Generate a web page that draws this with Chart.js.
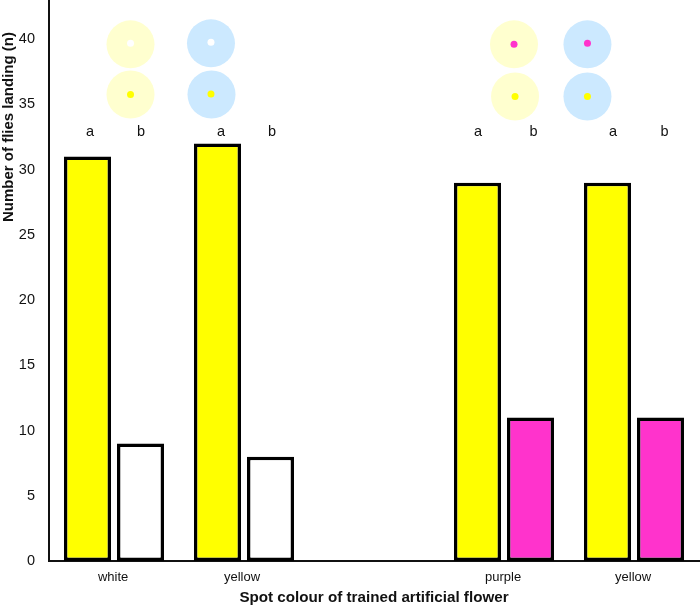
<!DOCTYPE html>
<html><head><meta charset="utf-8">
<style>html,body{margin:0;padding:0;background:#fff}#w{width:700px;height:607px;position:relative}</style>
<script src="https://cdn.jsdelivr.net/npm/chart.js@4"></script></head>
<body><div id="w"><canvas id="c"></canvas></div>
<script>
const categories = ['white','yellow','purple','yellow'];
const groupCentres = [0.5,1.5,3.5,4.5];
const labelCentres = [0.493,1.485,3.493,4.493];
const barOffset = 0.204;
const trainedSpot = [31,32,29,29];
const otherSpot = [9,8,11,11];
const otherColours = ['#FFFFFF','#FFFFFF','#FF33CC','#FF33CC'];
const yTicks = [0,5,10,15,20,25,30,35,40];
const yellowDiscs = [{x:0.627,y:39.6},{x:0.627,y:35.76},{x:3.577,y:39.6},{x:3.585,y:35.6}];
const blueDiscs = [{x:1.246,y:39.68},{x:1.25,y:35.76},{x:4.142,y:39.6},{x:4.142,y:35.6}];
const whiteSpots = [{x:0.627,y:39.68},{x:1.246,y:39.76}];
const yellowSpots = [{x:0.627,y:35.76},{x:1.246,y:35.8},{x:3.585,y:35.6},{x:4.142,y:35.6}];
const purpleSpots = [{x:3.577,y:39.6},{x:4.142,y:39.68}];
const letterPoints = [{x:0.315,y:32.9,t:'a'},{x:0.708,y:32.9,t:'b'},{x:1.323,y:32.9,t:'a'},{x:1.715,y:32.9,t:'b'},{x:3.3,y:32.9,t:'a'},{x:3.727,y:32.9,t:'b'},{x:4.338,y:32.9,t:'a'},{x:4.735,y:32.9,t:'b'}];
const yAxisTitle = 'Number of flies landing (n)';
const xAxisTitle = 'Spot colour of trained artificial flower';

const FF = '"Liberation Sans", Arial, sans-serif';
const dot = (data,color,r,order)=>({type:'scatter',data,backgroundColor:color,borderWidth:0,pointRadius:r,pointHoverRadius:r,order,clip:false});
const bars = (vals,shift,color)=>({data:vals.map((v,i)=>({x:groupCentres[i]+shift,y:v})),backgroundColor:color,borderColor:'#000',borderWidth:3.5,borderSkipped:false,grouped:false,barPercentage:0.887,categoryPercentage:1,order:5});
const textPlugin = {id:'texts',afterDatasetsDraw(chart){
  const {ctx,scales}=chart;ctx.save();ctx.fillStyle='#111';ctx.font='14.5px '+FF;ctx.textAlign='center';ctx.textBaseline='middle';
  letterPoints.forEach(p=>ctx.fillText(p.t,scales.x.getPixelForValue(p.x),scales.y.getPixelForValue(p.y)));
  ctx.font='bold 15px '+FF;ctx.translate(9,127);ctx.rotate(-Math.PI/2);ctx.fillText(yAxisTitle,0,0);
  ctx.restore();}};
new Chart(document.getElementById('c'),{
 type:'bar',
 data:{datasets:[
  bars(trainedSpot,-barOffset,'#FFFF00'),
  bars(otherSpot,barOffset,otherColours),
  dot(yellowDiscs,'#FFFFCF',24,4),
  dot(blueDiscs,'#CCE9FF',24,4),
  dot(whiteSpots,'#FFFFFF',3.5,1),
  dot(yellowSpots,'#FFFF00',3.5,1),
  dot(purpleSpots,'#FF33CC',3.5,1)
 ]},
 plugins:[textPlugin],
 options:{
  responsive:true,maintainAspectRatio:false,animation:false,
  layout:{autoPadding:false,padding:{left:0,right:1,top:0,bottom:0}},
  plugins:{legend:{display:false},tooltip:{enabled:false}},
  scales:{
   x:{type:'linear',position:'bottom',min:0,max:5,offset:false,
      afterBuildTicks(s){s.ticks=labelCentres.map(v=>({value:v}))},
      grid:{display:false,drawTicks:false},border:{display:true,color:'#111',width:2},
      ticks:{color:'#111',font:{family:FF,size:13},padding:9,maxRotation:0,autoSkip:false,includeBounds:false,callback:(v,i)=>categories[i]},
      title:{display:true,text:xAxisTitle,color:'#111',font:{family:FF,size:15.2,weight:'bold'},padding:{top:3,bottom:0}},
      afterFit(s){s.height=46;s.paddingLeft=0;s.paddingRight=0}},
   y:{type:'linear',min:0,max:43,
      afterBuildTicks(s){s.ticks=yTicks.map(v=>({value:v}))},
      grid:{display:false,drawTicks:true,tickLength:5,tickColor:'#111',tickWidth:1.5},border:{display:true,color:'#111',width:2},
      ticks:{color:'#111',font:{family:FF,size:14.5},padding:9,includeBounds:false},
      afterFit(s){s.width=49;s.paddingTop=0;s.paddingBottom=0}}
  }
 }
});
</script></body></html>
